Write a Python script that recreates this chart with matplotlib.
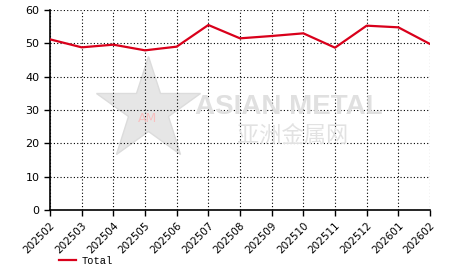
import matplotlib
matplotlib.use("Agg")
from matplotlib import pyplot as plt
from matplotlib.lines import Line2D

months = ["202502", "202503", "202504", "202505", "202506", "202507", "202508",
          "202509", "202510", "202511", "202512", "202601", "202602"]
total = [51.2, 48.8, 49.6, 47.9, 49.0, 55.5, 51.5, 52.2, 53.0, 48.7, 55.3, 54.8, 49.8]

W, H = 466, 272
fig = plt.figure(figsize=(W / 100, H / 100), dpi=100)
ax = fig.add_axes([50 / W, 1 - 210 / H, 380 / W, 200 / H])

## watermark (star logo + name)
star = Line2D([148 / W], [1 - 110 / H], transform=fig.transFigure, marker="*",
              markersize=78, color="#e6e6e6", markeredgecolor="#dcdcdc", zorder=0)
fig.add_artist(star)
fig.text(148 / W, 1 - 119 / H, "AM", fontsize=9, color="#f7c0c0",
         ha="center", va="center", zorder=0)
fig.text(289 / W, 1 - 107 / H, "ASIAN METAL", fontsize=20, color="#e0e0e0",
         ha="center", va="center", family="Liberation Sans", fontweight="bold",
         zorder=0)
fig.text(293 / W, 1 - 135 / H, u"亚洲金属网", fontsize=16, color="#e2e2e2",
         ha="center", va="center", family=["Noto Sans CJK SC", "DejaVu Sans"], zorder=0)

x = list(range(len(months)))
ax.plot(x, total, color="#d9001b", lw=1.6, label="Total", zorder=3)

ax.set_xlim(0, len(months) - 1)
ax.set_ylim(0, 60)
ax.set_yticks([0, 10, 20, 30, 40, 50, 60])
ax.set_xticks(x)
ax.set_xticklabels(months, rotation=45, ha="right", rotation_mode="anchor", fontsize=7.5)
ax.tick_params(axis="y", labelsize=8, length=4, width=1, direction="out")
ax.tick_params(axis="x", length=4, width=1, direction="out")
ax.grid(True, color="black", linestyle=(0, (1, 2)), lw=0.8)
ax.patch.set_alpha(0)
for s in ["top", "right"]:
    ax.spines[s].set_visible(False)
ax.spines["left"].set_linewidth(1.2)
ax.spines["bottom"].set_linewidth(1.2)

fig.legend(loc="lower left", bbox_to_anchor=(53 / W, 0), frameon=False,
           prop={"family": "Liberation Mono", "size": 7.5}, handlelength=1.6,
           handletextpad=0.5, borderaxespad=0.2)

fig.savefig("out.png", dpi=100)
